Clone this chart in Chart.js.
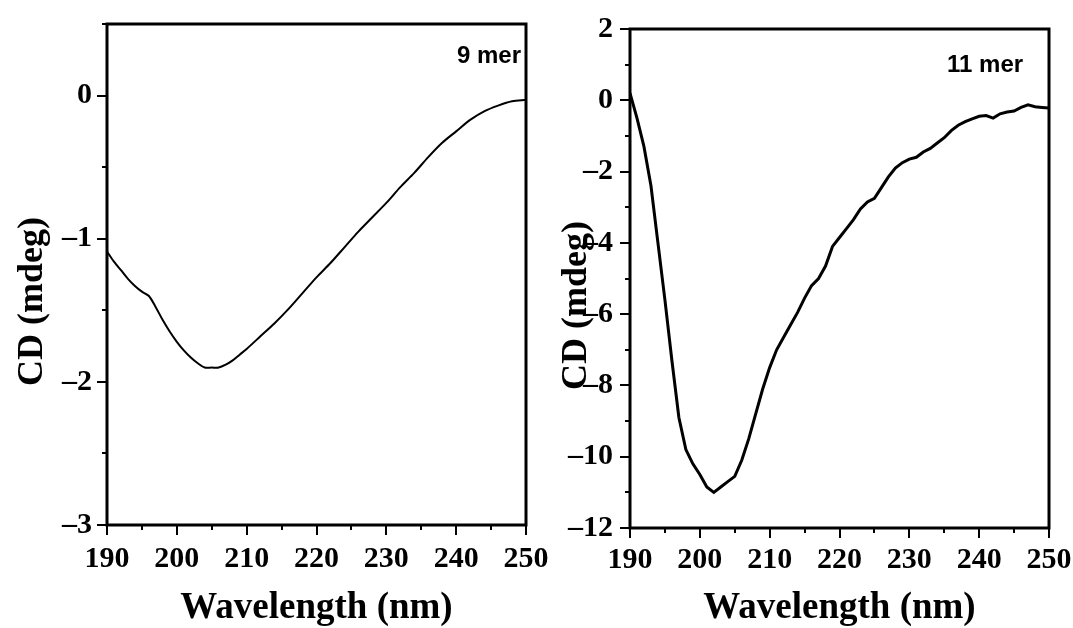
<!DOCTYPE html>
<html>
<head>
<meta charset="utf-8">
<script src="https://cdn.jsdelivr.net/npm/chart.js@4.4.1/dist/chart.umd.min.js"></script>
<style>
  body { margin: 0; background: #fff; width: 1073px; height: 628px; position: relative; overflow: hidden; }
  canvas { position: absolute; top: 0; }
  #cd9 { left: 0; }
  #cd11 { left: 540px; }
</style>
</head>
<body>
<canvas id="cd9" width="560" height="628"></canvas>
<canvas id="cd11" width="533" height="628"></canvas>
<script>
// 9 mer spectrum
var wave9 = [190, 191, 192, 193, 194, 195, 196, 197, 198, 199, 200, 201, 202, 203, 204, 205, 206, 207, 208, 209,
  210, 212, 214, 216, 218, 220, 222, 224, 226, 228, 230, 232, 234, 236, 238, 240, 242, 244, 246, 248, 250];
var cd9 = [-1.09, -1.16, -1.22, -1.28, -1.33, -1.37, -1.40, -1.48, -1.57, -1.65, -1.72, -1.78, -1.83, -1.87, -1.90, -1.90, -1.90, -1.88, -1.85, -1.81,
  -1.77, -1.68, -1.59, -1.49, -1.38, -1.27, -1.17, -1.06, -0.95, -0.85, -0.75, -0.64, -0.54, -0.43, -0.33, -0.25, -0.17, -0.11, -0.07, -0.04, -0.03];

// 11 mer spectrum
var wave11 = [190, 191, 192, 193, 194, 195, 196, 197, 198, 199, 200, 201, 202, 203, 204, 205, 206, 207, 208, 209,
  210, 211, 212, 213, 214, 215, 216, 217, 218, 219, 220, 221, 222, 223, 224, 225, 226, 227, 228, 229,
  230, 231, 232, 233, 234, 235, 236, 237, 238, 239, 240, 241, 242, 243, 244, 245, 246, 247, 248, 249, 250];
var cd11 = [0.2, -0.5, -1.3, -2.4, -4.0, -5.6, -7.3, -8.9, -9.8, -10.2, -10.5, -10.85, -11.0, -10.85, -10.7, -10.55, -10.1, -9.5, -8.8, -8.1,
  -7.5, -7.0, -6.65, -6.3, -5.95, -5.55, -5.2, -5.0, -4.65, -4.1, -3.85, -3.6, -3.35, -3.05, -2.85, -2.75, -2.45, -2.15, -1.9, -1.75,
  -1.65, -1.6, -1.45, -1.35, -1.2, -1.05, -0.85, -0.7, -0.6, -0.52, -0.45, -0.43, -0.5, -0.38, -0.33, -0.3, -0.2, -0.13, -0.18, -0.2, -0.22];

var xTicks = [190, 200, 210, 220, 230, 240, 250];
var yTicks9 = [-3, -2, -1, 0];
var yTicks11 = [-12, -10, -8, -6, -4, -2, 0, 2];

Chart.defaults.font.family = '"Liberation Serif", serif';
Chart.defaults.font.weight = 'bold';
Chart.defaults.color = '#000';

// frame, ticks (major + minor) and the panel label
var boxTicks = {
  id: 'boxTicks',
  afterDraw: function (chart, args, o) {
    var ctx = chart.ctx, a = chart.chartArea, xs = chart.scales.x, ys = chart.scales.y;
    function isMajor(v, step) { return Math.abs(v - Math.round(v / step) * step) < 1e-6; }
    ctx.save();
    ctx.strokeStyle = '#000';
    ctx.lineWidth = 2;
    ctx.beginPath();
    for (var v = xs.min; v <= xs.max + 1e-6; v += o.xMinor) {
      var px = Math.round(xs.getPixelForValue(v));
      ctx.moveTo(px, a.bottom);
      ctx.lineTo(px, a.bottom + (isMajor(v, 10) ? 10 : 5));
    }
    for (var w = ys.min; w <= ys.max + 1e-6; w += o.yMinor) {
      var py = Math.round(ys.getPixelForValue(w));
      ctx.moveTo(a.left, py);
      ctx.lineTo(a.left - (isMajor(w, o.yMajor) ? 10 : 5), py);
    }
    ctx.stroke();
    ctx.lineWidth = 3;
    ctx.strokeRect(a.left, a.top, a.right - a.left, a.bottom - a.top);
    ctx.fillStyle = '#000';
    ctx.font = 'bold 24px "Liberation Sans", Arial, sans-serif';
    ctx.textBaseline = 'middle';
    ctx.textAlign = 'left';
    ctx.fillText(o.label, a.right + o.labelDx, a.top + o.labelDy);
    ctx.restore();
  }
};

function minusLabel(v) {
  return v < 0 ? '\u2013' + Math.abs(v) : String(v);
}

function makeChart(id, wave, cd, yTicks, cfg) {
  var points = wave.map(function (w, i) { return { x: w, y: cd[i] }; });
  return new Chart(document.getElementById(id), {
    type: 'line',
    data: {
      datasets: [{
        data: points,
        borderColor: '#000',
        borderWidth: cfg.lineWidth,
        pointRadius: 0,
        tension: cfg.tension,
        fill: false
      }]
    },
    options: {
      responsive: false,
      animation: false,
      devicePixelRatio: 1,
      layout: { padding: { top: cfg.top, right: cfg.right, left: 0, bottom: 0 } },
      plugins: {
        legend: { display: false },
        tooltip: { enabled: false },
        boxTicks: cfg.box
      },
      scales: {
        x: {
          type: 'linear',
          min: 190,
          max: 250,
          grid: { display: false, drawTicks: false },
          border: { display: false },
          afterBuildTicks: function (s) { s.ticks = xTicks.map(function (v) { return { value: v }; }); },
          afterFit: function (s) { s.height = cfg.xHeight; s.paddingLeft = 0; s.paddingRight = 0; },
          ticks: { font: { size: 30, weight: 'bold' }, padding: cfg.xPad, maxRotation: 0, autoSkip: false },
          title: {
            display: true,
            text: 'Wavelength (nm)',
            font: { size: 37, weight: 'bold' },
            padding: { top: 0, bottom: -3 }
          }
        },
        y: {
          min: cfg.yMin,
          max: cfg.yMax,
          grid: { display: false, drawTicks: false },
          border: { display: false },
          afterBuildTicks: function (s) { s.ticks = yTicks.map(function (v) { return { value: v }; }); },
          afterFit: function (s) { s.width = cfg.yWidth; s.paddingTop = 0; s.paddingBottom = 0; },
          ticks: { font: { size: 30, weight: 'bold' }, padding: cfg.yPad, callback: minusLabel, autoSkip: false },
          title: {
            display: true,
            text: 'CD (mdeg)      ',
            font: { size: 36, weight: 'bold' },
            padding: { top: cfg.yTitlePad, bottom: 0 }
          }
        }
      }
    },
    plugins: [boxTicks]
  });
}

makeChart('cd9', wave9, cd9, yTicks9, {
  lineWidth: 2, tension: 0.3, top: 24, right: 34, xHeight: 103, yWidth: 107,
  yMin: -3, yMax: 0.5, xPad: 16, yPad: 15, yTitlePad: 11,
  box: { xMinor: 5, yMinor: 0.5, yMajor: 1, label: '9 mer', labelDx: -69, labelDy: 32 }
});

makeChart('cd11', wave11, cd11, yTicks11, {
  lineWidth: 3, tension: 0, top: 29, right: 24, xHeight: 100, yWidth: 90,
  yMin: -12, yMax: 2, xPad: 14, yPad: 17, yTitlePad: 15,
  box: { xMinor: 5, yMinor: 1, yMajor: 2, label: '11 mer', labelDx: -102, labelDy: 36 }
});
</script>
</body>
</html>
